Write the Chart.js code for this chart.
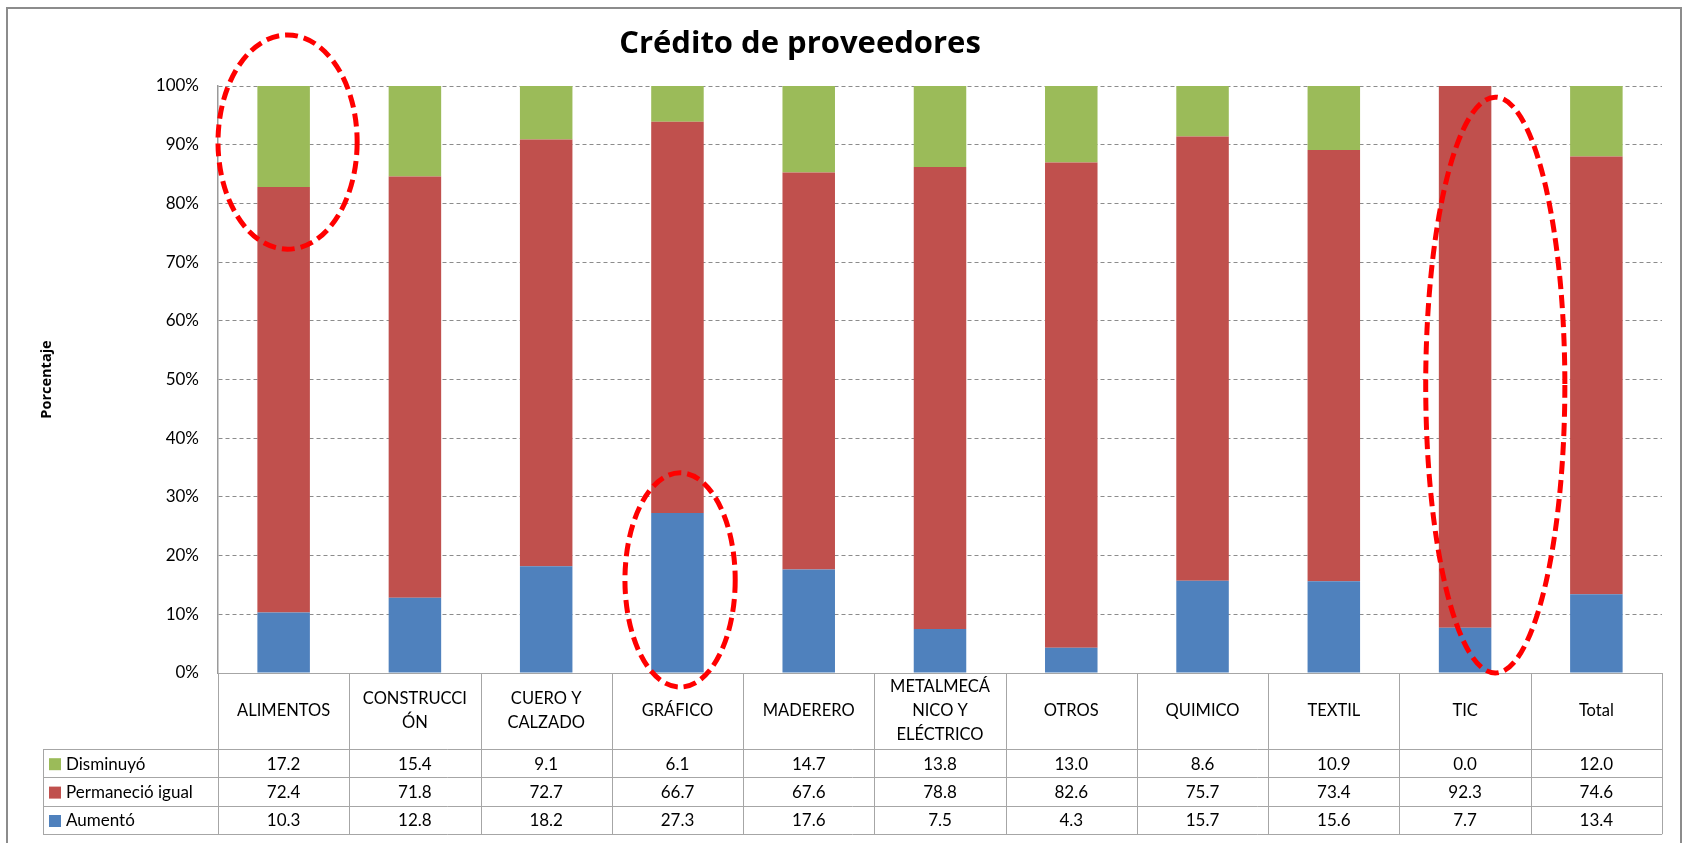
<!DOCTYPE html>
<html>
<head>
<meta charset="utf-8">
<title>Crédito de proveedores</title>
<script src="https://cdn.jsdelivr.net/npm/chart.js@4.4.1/dist/chart.umd.min.js"></script>
<style>
    html, body { margin: 0; padding: 0; background: #fff; }
    #wrap { width: 1684px; height: 843px; }
</style>
</head>
<body>
<div id="wrap"><canvas id="chart" width="1684" height="843"></canvas></div>
<script>
// Datos del gráfico
const chartTitle = 'Crédito de proveedores';
const axisTitle = 'Porcentaje';
const categories = [
    ['ALIMENTOS'], ['CONSTRUCCI', 'ÓN'], ['CUERO Y', 'CALZADO'], ['GRÁFICO'], ['MADERERO'],
    ['METALMECÁ', 'NICO Y', 'ELÉCTRICO'], ['OTROS'], ['QUIMICO'], ['TEXTIL'], ['TIC'], ['Total']
];
const seriesNames = ['Disminuyó', 'Permaneció igual', 'Aumentó'];
const disminuyo  = [17.2, 15.4, 9.1, 6.1, 14.7, 13.8, 13.0, 8.6, 10.9, 0.0, 12.0];
const permanecio = [72.4, 71.8, 72.7, 66.7, 67.6, 78.8, 82.6, 75.7, 73.4, 92.3, 74.6];
const aumento    = [10.3, 12.8, 18.2, 27.3, 17.6, 7.5, 4.3, 15.7, 15.6, 7.7, 13.4];
const yTicks = [0, 10, 20, 30, 40, 50, 60, 70, 80, 90, 100];

// Elipses rojas (categoría, rango en %)
const highlights = [
    { cat: 0, shift: 0.03, from: 72.2, to: 108.7, spread: 0.53 },
    { cat: 3, shift: 0.02, from: -2.4, to: 34.1, spread: 0.42 },
    { cat: 9, shift: 0.23, from: 0, to: 98.1, spread: 0.53 }
];

const colors = { 'Disminuyó': '#9BBB59', 'Permaneció igual': '#C0504D', 'Aumentó': '#4F81BD' };
const FONT = 'Lato, "Open Sans", sans-serif';
const BOLD_FONT = '"Open Sans", Lato, sans-serif';

/* --- apilado al 100% --- */
function share(series) {
    return series.map((v, i) => {
        const sum = disminuyo[i] + permanecio[i] + aumento[i];
        return sum ? v / sum * 100 : 0;
    });
}

const tableRows = [
    { name: 'Disminuyó', values: disminuyo },
    { name: 'Permaneció igual', values: permanecio },
    { name: 'Aumentó', values: aumento }
];

/* --- plugin: título, tabla de datos, elipses, marco --- */
const extrasPlugin = {
    id: 'extras',
    afterDraw(chart) {
        const ctx = chart.ctx;
        const area = chart.chartArea;
        const x = chart.scales.x;
        const y = chart.scales.y;
        const n = categories.length;
        const cw = (area.right - area.left) / n;

        ctx.save();

        // título
        ctx.fillStyle = '#000';
        ctx.font = 'bold 31px ' + BOLD_FONT;
        ctx.textAlign = 'center';
        ctx.textBaseline = 'middle';
        ctx.fillText(chartTitle, 800, 44);

        // tabla de datos
        const top = area.bottom;
        const headH = 76;
        const rowH = 28.4;
        const legLeft = 43;
        const bottom = top + headH + rowH * tableRows.length;

        ctx.strokeStyle = '#a6a6a6';
        ctx.lineWidth = 1;
        ctx.beginPath();
        ctx.moveTo(area.left, top + 0.5);
        ctx.lineTo(area.right, top + 0.5);
        for (let r = 0; r <= tableRows.length; r++) {
            const yy = Math.round(top + headH + r * rowH) + 0.5;
            ctx.moveTo(legLeft, yy);
            ctx.lineTo(area.right, yy);
        }
        for (let i = 0; i <= n; i++) {
            const xx = Math.round(area.left + i * cw) + 0.5;
            ctx.moveTo(xx, top);
            ctx.lineTo(xx, bottom);
        }
        ctx.moveTo(legLeft + 0.5, top + headH);
        ctx.lineTo(legLeft + 0.5, bottom);
        ctx.stroke();

        // encabezados de categoría
        ctx.fillStyle = '#000';
        ctx.font = '16.5px ' + FONT;
        ctx.textAlign = 'center';
        categories.forEach((lines, i) => {
            const cx = x.getPixelForValue(i);
            const lh = 24;
            const y0 = top + headH / 2 - (lines.length - 1) * lh / 2;
            lines.forEach((t, k) => ctx.fillText(t, cx, y0 + k * lh));
        });

        // filas de valores
        ctx.font = '17px ' + FONT;
        tableRows.forEach((row, r) => {
            const cy = top + headH + r * rowH + rowH / 2 + 1;
            ctx.fillStyle = colors[row.name];
            ctx.fillRect(legLeft + 6, cy - 6, 12, 12);
            ctx.fillStyle = '#000';
            ctx.textAlign = 'left';
            ctx.fillText(row.name, legLeft + 23, cy);
            ctx.textAlign = 'center';
            row.values.forEach((v, i) => ctx.fillText(v.toFixed(1), x.getPixelForValue(i), cy));
        });

        // elipses rojas punteadas
        ctx.strokeStyle = '#ff0000';
        ctx.lineWidth = 5;
        ctx.setLineDash([13, 6]);
        highlights.forEach(h => {
            const cx = x.getPixelForValue(h.cat) + h.shift * cw;
            const yTop = y.getPixelForValue(h.to);
            const yBot = y.getPixelForValue(h.from);
            ctx.beginPath();
            ctx.ellipse(cx, (yTop + yBot) / 2, h.spread * cw, (yBot - yTop) / 2, 0, 0, Math.PI * 2);
            ctx.stroke();
        });
        ctx.setLineDash([]);

        // marco exterior
        ctx.strokeStyle = '#8c8c8c';
        ctx.lineWidth = 2;
        ctx.strokeRect(7, 8, 1674, 840);

        ctx.restore();
    }
};

document.addEventListener('DOMContentLoaded', function () {
    const canvas = document.getElementById('chart');

    new Chart(canvas, {
        type: 'bar',
        data: {
            labels: categories,
            datasets: [
                { label: 'Aumentó', data: share(aumento), backgroundColor: colors['Aumentó'] },
                { label: 'Permaneció igual', data: share(permanecio), backgroundColor: colors['Permaneció igual'] },
                { label: 'Disminuyó', data: share(disminuyo), backgroundColor: colors['Disminuyó'] }
            ]
        },
        options: {
            responsive: false,
            animation: false,
            devicePixelRatio: 1,
            layout: { padding: { left: 30, top: 86, right: 22, bottom: 170 } },
            datasets: { bar: { categoryPercentage: 1, barPercentage: 0.40 } },
            plugins: {
                legend: { display: false },
                title: { display: false },
                tooltip: { enabled: false }
            },
            scales: {
                x: {
                    stacked: true,
                    display: false
                },
                y: {
                    stacked: true,
                    min: 0,
                    max: 100,
                    afterBuildTicks: s => { s.ticks = yTicks.map(v => ({ value: v })); },
                    afterFit: s => { s.width = 188; },
                    grid: { color: '#8c8c8c', lineWidth: 1, drawTicks: false },
                    border: { display: true, color: '#9a9a9a', width: 1.5, dash: [4, 3] },
                    ticks: {
                        padding: 19,
                        color: '#000',
                        font: { family: FONT, size: 17 },
                        callback: v => v + '%'
                    },
                    title: {
                        display: true,
                        text: axisTitle,
                        color: '#000',
                        padding: { top: 8, bottom: 0 },
                        font: { family: BOLD_FONT, size: 14.5, weight: 'bold' }
                    }
                }
            }
        },
        plugins: [extrasPlugin]
    });
});
</script>
</body>
</html>
